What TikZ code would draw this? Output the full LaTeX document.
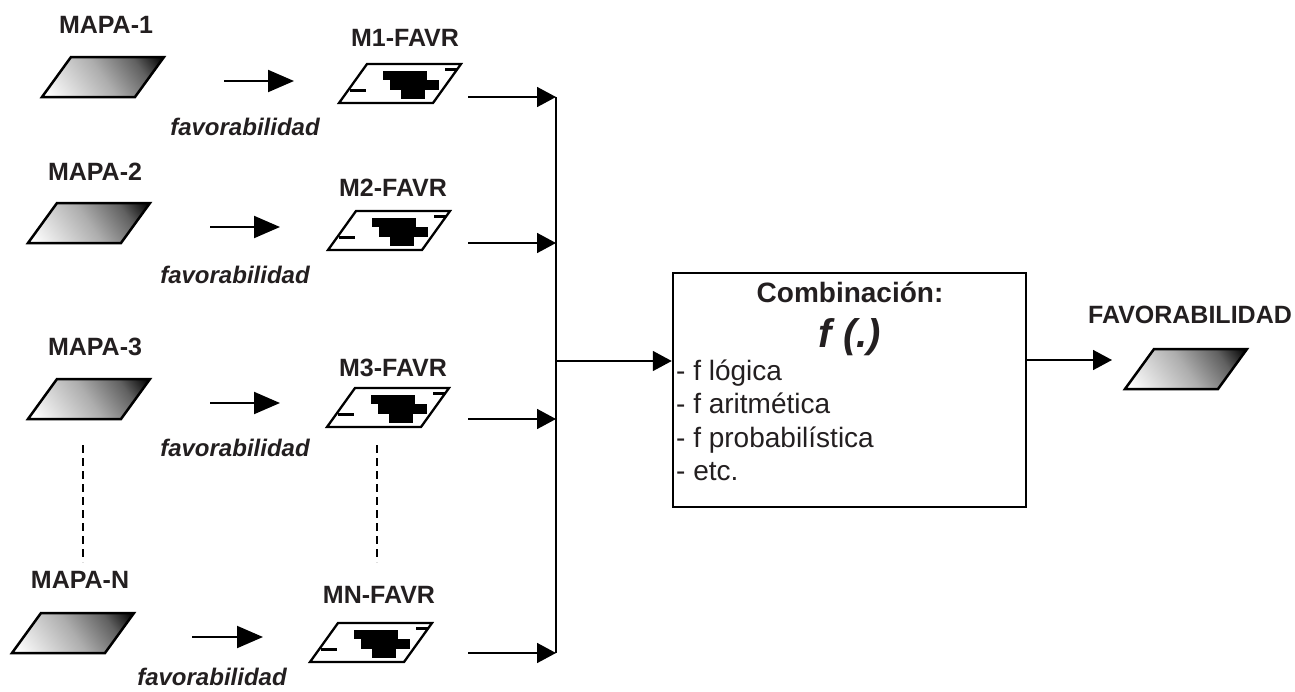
\documentclass[tikz,border=0pt]{standalone}
\usepackage{fontspec}
\setmainfont{Liberation Sans}
\usetikzlibrary{arrows.meta}
\definecolor{ink}{HTML}{231F20}
\pgfdeclareverticalshading{mapash}{100bp}{color(0bp)=(white); color(18bp)=(white); color(50bp)=(black!32); color(70bp)=(black!62); color(84bp)=(black); color(100bp)=(black)}
\tikzset{
  lbl/.style={font=\fontsize{25}{30}\selectfont\bfseries, text=ink, inner sep=0pt},
  favlbl/.style={font=\fontsize{24}{28}\selectfont\bfseries\itshape, text=ink, inner sep=0pt},
  boxtxt/.style={font=\fontsize{28}{33}\selectfont, text=ink, inner sep=0pt},
  conn/.style={line width=1.6pt, -{Triangle[length=19pt,width=20pt]}},
  plainline/.style={line width=1.6pt},
  smallarr/.style={line width=2pt, -{Triangle[length=26pt,width=22pt]}},
  dashv/.style={line width=1.7pt, dash pattern=on 8pt off 5pt},
  pics/mapa/.style={code={
    \shade[shading=mapash, shading angle=-55, draw=black, line width=2.5pt, line join=miter]
      (0,0) -- (29,-40) -- (122,-40) -- (93,0) -- cycle;
  }},
  pics/favr/.style={code={
    \draw[line width=2.3pt, fill=white, line join=miter]
      (0,0) -- (28,-39) -- (122,-39) -- (94,0) -- cycle;
    \fill[black] (44,-32) rectangle (88,-23);
    \fill[black] (51,-23) rectangle (100,-13);
    \fill[black] (62,-13) rectangle (86,-4);
    \fill[black] (11,-14) rectangle (27,-11);
    \fill[black] (106,-35) rectangle (118,-32);
  }}
}
\begin{document}
\begin{tikzpicture}[x=1pt,y=-1pt]
\useasboundingbox (0,0) rectangle (1295,691);

% input maps
\pic (p1) at (42,97) {mapa};
\pic (p2) at (28,243) {mapa};
\pic (p3) at (28,419) {mapa};
\pic (pN) at (12,653) {mapa};
\pic (pout) at (1125,389) {mapa};

% favourability maps
\pic (f1) at (339,103) {favr};
\pic (f2) at (328,250) {favr};
\pic (f3) at (327,427) {favr};
\pic (fN) at (310,662) {favr};

% labels
\node[lbl] (lm1) at (106,25) {MAPA-1};
\node[lbl] (lm2) at (95,172) {MAPA-2};
\node[lbl] (lm3) at (95,347) {MAPA-3};
\node[lbl] (lmN) at (80,580) {MAPA-N};
\node[lbl] (lf1) at (405,38) {M1-FAVR};
\node[lbl] (lf2) at (393,188) {M2-FAVR};
\node[lbl] (lf3) at (393,368) {M3-FAVR};
\node[lbl] (lfN) at (379,595) {MN-FAVR};
\node[lbl] (lout) at (1190,315) {FAVORABILIDAD};

\node[favlbl] (fv1) at (245,127) {favorabilidad};
\node[favlbl] (fv2) at (235,275) {favorabilidad};
\node[favlbl] (fv3) at (235,448) {favorabilidad};
\node[favlbl] (fvN) at (212,677) {favorabilidad};

% small arrows
\coordinate (a1s) at (224,81);  \coordinate (a1e) at (294,81);
\coordinate (a2s) at (210,227); \coordinate (a2e) at (280,227);
\coordinate (a3s) at (210,403); \coordinate (a3e) at (280,403);
\coordinate (aNs) at (192,637); \coordinate (aNe) at (263,637);
\draw[smallarr] (a1s) -- (a1e);
\draw[smallarr] (a2s) -- (a2e);
\draw[smallarr] (a3s) -- (a3e);
\draw[smallarr] (aNs) -- (aNe);

% dashed continuation lines
\coordinate (d1s) at (83,445);  \coordinate (d1e) at (83,562);
\coordinate (d2s) at (377,445); \coordinate (d2e) at (377,562);
\draw[dashv] (d1s) -- (d1e);
\draw[dashv] (d2s) -- (d2e);

% combination box
\node[draw=black, line width=2.5pt, minimum width=353pt, minimum height=234pt, inner sep=0pt] (comb) at (849.5,390) {};
\node[boxtxt, font=\fontsize{28}{33}\selectfont\bfseries, anchor=base] (ctitle) at (850,302) {Combinación:};
\node[boxtxt, font=\fontsize{40}{46}\selectfont\bfseries\itshape, anchor=base] (cf) at (850,347) {f (.)};
\node[boxtxt, anchor=base west] (c1) at (676,380) {- f lógica};
\node[boxtxt, anchor=base west] (c2) at (676,413) {- f aritmética};
\node[boxtxt, anchor=base west] (c3) at (676,447) {- f probabilística};
\node[boxtxt, anchor=base west] (c4) at (676,480) {- etc.};

% connectors to the collector line
\coordinate (o1) at (468,97);  \coordinate (t1) at (556,97);
\coordinate (o2) at (468,243); \coordinate (t2) at (556,243);
\coordinate (o3) at (468,419); \coordinate (t3) at (556,419);
\coordinate (oN) at (468,653); \coordinate (tN) at (556,653);
\draw[plainline] (t1) -- (tN);
\draw[conn] (o1) -- (t1);
\draw[conn] (o2) -- (t2);
\draw[conn] (o3) -- (t3);
\draw[conn] (oN) -- (tN);
\coordinate (jn) at (556,361);
\draw[conn] (jn) -- (jn -| comb.west);
\coordinate (ou) at (1112,360);
\draw[conn] (ou -| comb.east) -- (ou);
\end{tikzpicture}
\end{document}
